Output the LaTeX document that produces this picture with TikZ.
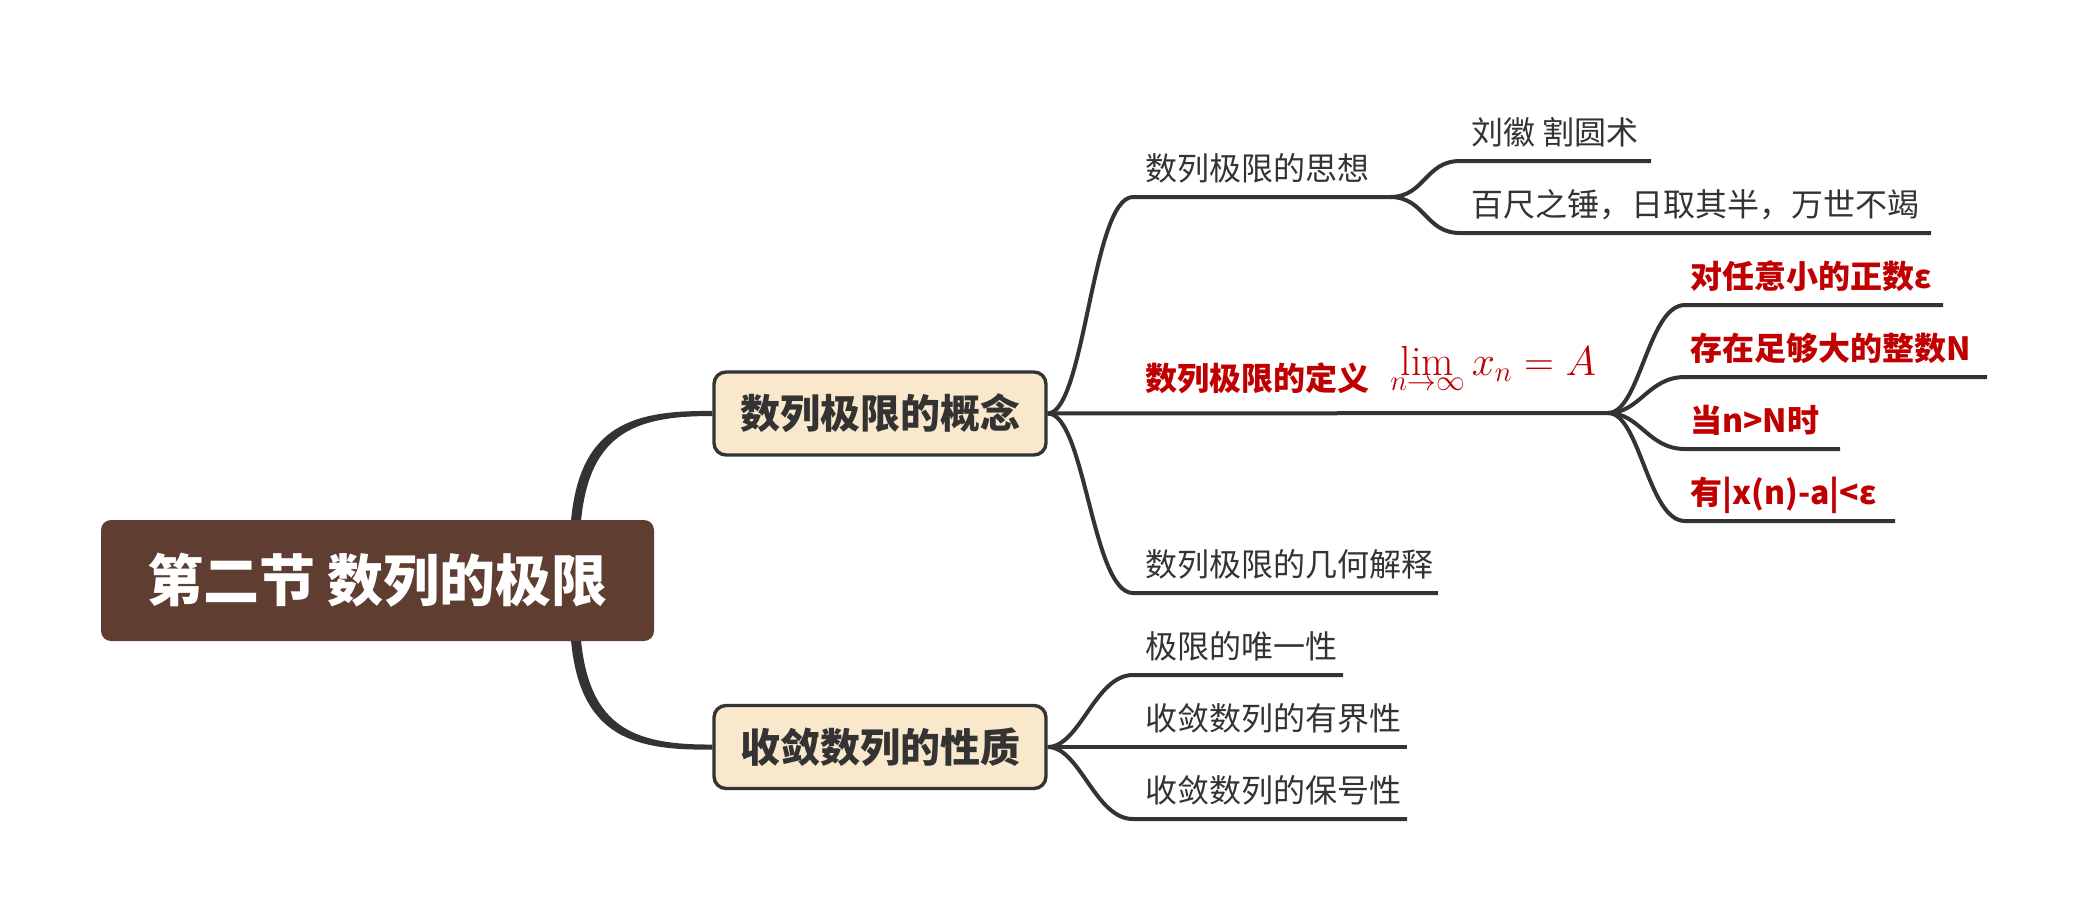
\documentclass[tikz,border=0pt]{standalone}
\usepackage[no-math]{fontspec}
\setmainfont{Noto Sans CJK SC}
\newfontfamily\lmfont{Latin Modern Roman}
\usetikzlibrary{calc,backgrounds}
\definecolor{rootbrown}{HTML}{603D31}
\definecolor{cream}{HTML}{F9E8CB}
\definecolor{ink}{HTML}{333333}
\definecolor{redtxt}{HTML}{C00000}
\tikzset{
  branch/.style={draw=ink, line width=2pt},
  leaf/.style={anchor=base west, inner sep=0pt, text=ink, font=\fontsize{16}{19}\selectfont},
  redleaf/.style={anchor=base west, inner sep=0pt, text=redtxt, font=\fontsize{16}{19}\selectfont\bfseries},
  topic/.style={draw=ink, line width=1.7pt, fill=cream, rounded corners=6pt, minimum width=166pt, minimum height=41.5pt, inner sep=0pt, text=ink, font=\fontsize{20}{24}\selectfont\bfseries},
  rootbox/.style={fill=rootbrown, rounded corners=5pt, minimum width=276.5pt, minimum height=60.5pt, inner sep=0pt, text=white, font=\fontsize{28}{32}\selectfont\bfseries},
}
\begin{document}
\begin{tikzpicture}[x=0.5pt,y=-0.5pt]
\useasboundingbox (0,0) rectangle (2084,922);
% main nodes
\node[rootbox] (root) at (377.5,580.5) {第二节 数列的极限};
\node[topic] (c1) at (880,413.5) {数列极限的概念};
\node[topic] (c2) at (880,747) {收敛数列的性质};
% root connectors (tapered), behind the nodes
\coordinate (rs1) at (575,535);
\coordinate (rs2) at (575,626);
\begin{scope}[on background layer]
\fill[ink] ($(rs1)+(-5,0)$) .. controls (575,427) and (628,410) .. ($(c1.west)+(0,-2.5)$)
  -- ($(c1.west)+(0,2.5)$) .. controls (633,416) and (585,433) .. ($(rs1)+(5,0)$) -- cycle;
\fill[ink] ($(rs2)+(-5,0)$) .. controls (575,734) and (628,751) .. ($(c2.west)+(0,2.5)$)
  -- ($(c2.west)+(0,-2.5)$) .. controls (633,745) and (585,728) .. ($(rs2)+(5,0)$) -- cycle;
\end{scope}
% coordinates of branch lines
\coordinate (t1s) at (1133,197);
\coordinate (t1e) at (1390,197);
\coordinate (l1s) at (1460,161); \coordinate (l1e) at (1651,161);
\coordinate (l2s) at (1460,233); \coordinate (l2e) at (1931,233);
\coordinate (d) at (1608,413);
\coordinate (e1s) at (1685,305); \coordinate (e1e) at (1943,305);
\coordinate (e2s) at (1685,377); \coordinate (e2e) at (1987,377);
\coordinate (e3s) at (1685,449); \coordinate (e3e) at (1840,449);
\coordinate (e4s) at (1685,521); \coordinate (e4e) at (1895,521);
\coordinate (gs) at (1133,593); \coordinate (ge) at (1438,593);
\coordinate (p1s) at (1133,675); \coordinate (p1e) at (1343,675);
\coordinate (p2e) at (1407,747);
\coordinate (p3s) at (1133,819); \coordinate (p3e) at (1407,819);
% branches of topic 1
\draw[branch] (c1.east) .. controls (1085,413) and (1092,197) .. (t1s) -- (t1e);
\draw[branch] (t1e) .. controls (1425,197) and (1425,161) .. (l1s) -- (l1e);
\draw[branch] (t1e) .. controls (1425,197) and (1425,233) .. (l2s) -- (l2e);
\draw[branch] (c1.east) -- (d);
\draw[branch] (d) .. controls (1640,413) and (1648,305) .. (e1s) -- (e1e);
\draw[branch] (d) .. controls (1640,413) and (1648,377) .. (e2s) -- (e2e);
\draw[branch] (d) .. controls (1640,413) and (1648,449) .. (e3s) -- (e3e);
\draw[branch] (d) .. controls (1640,413) and (1648,521) .. (e4s) -- (e4e);
\draw[branch] (c1.east) .. controls (1085,413) and (1092,593) .. (gs) -- (ge);
% branches of topic 2
\draw[branch] (c2.east) .. controls (1080,747) and (1095,675) .. (p1s) -- (p1e);
\draw[branch] (c2.east) -- (p2e);
\draw[branch] (c2.east) .. controls (1080,747) and (1095,819) .. (p3s) -- (p3e);
% texts
\node[leaf] (n1) at (1145,180) {数列极限的思想};
\node[leaf] (n11) at (1471,144) {刘徽 割圆术};
\node[leaf] (n12) at (1471,216) {百尺之锤，日取其半，万世不竭};
\node[redleaf] (n2) at (1145,390) {数列极限的定义};
\node[anchor=base west, inner sep=0pt, text=redtxt, font=\fontsize{21}{25}\selectfont] (n2m) at (1390,375) {$\displaystyle\mathop{\hbox{\lmfont lim}}\limits_{n\to\infty} x_n = A$};
\node[redleaf] (n21) at (1690,288) {对任意小的正数ε};
\node[redleaf] (n22) at (1690,360) {存在足够大的整数N};
\node[redleaf] (n23) at (1690,432) {当n>N时};
\node[redleaf] (n24) at (1690,504) {有|x(n)-a|<ε};
\node[leaf] (n3) at (1145,576) {数列极限的几何解释};
\node[leaf] (m1) at (1145,658) {极限的唯一性};
\node[leaf] (m2) at (1145,730) {收敛数列的有界性};
\node[leaf] (m3) at (1145,802) {收敛数列的保号性};
\end{tikzpicture}
\end{document}
